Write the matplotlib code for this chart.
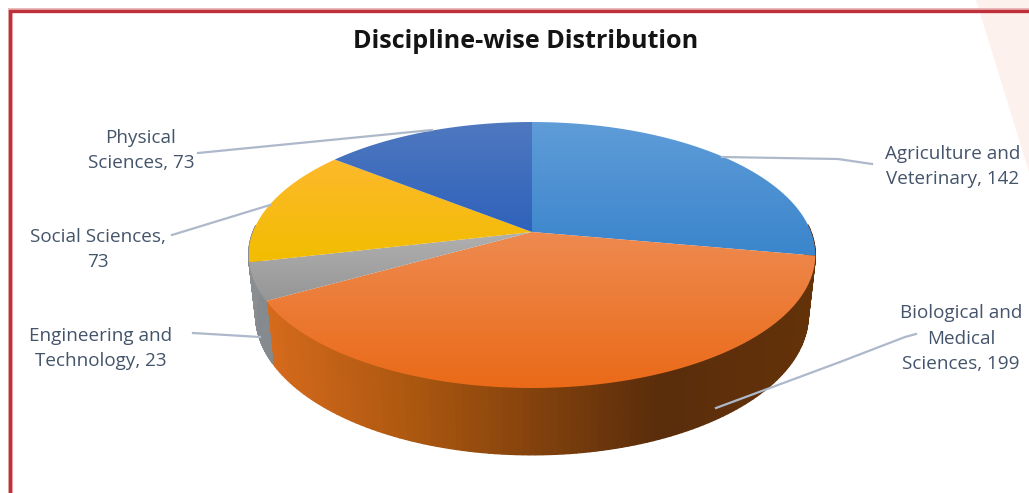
"""Discipline-wise distribution, 3D-looking pie drawn with plain matplotlib patches."""
import numpy as np
import matplotlib
matplotlib.use("Agg")
import matplotlib.pyplot as plt
from matplotlib.patches import Polygon, PathPatch
from matplotlib.path import Path
from matplotlib.colors import LinearSegmentedColormap

# ---------------------------------------------------------------------------
# Data
disciplines = ["Agriculture and\nVeterinary", "Biological and\nMedical\nSciences",
               "Engineering and\nTechnology", "Social Sciences", "Physical\nSciences"]
counts = [142, 199, 23, 73, 73]

# ---------------------------------------------------------------------------
# Style
top_light = ["#5f9cd8", "#ee8a50", "#b0b0b0", "#fdb92c", "#4f78bf"]
top_dark = ["#3a85cc", "#ea6a18", "#969696", "#f2bd00", "#2f62bb"]
side_stops = [(0.0, "#d56a1c"), (0.28, "#a9560f"), (0.5, "#81410d"),
              (0.72, "#5a2d0b"), (1.0, "#633209")]
side_cmap = LinearSegmentedColormap.from_list("side", side_stops)
side_flat = {0: "#633209", 2: "#858a8e", 3: "#8a8e90"}
text_col = "#44546a"
leader_col = "#adb9ca"
border_col = "#c0303a"

# pie geometry, pixels: centre point, projection strength, lower rim offset and scale
cx, cy = 532, 232
rx, ry = 279, 129
persp = 0.173
depth = 59
lower_sx, lower_sy = 0.975, 1.05

label_pos = [(953, 166.5), (961, 338.5), (101, 348.5), (98, 249.5), (141, 150.5)]
label_sep = [", ", ", ", ", ", ",\n", ", "]
leaders = [
    [(722, 157), (838, 159), (872, 164)],
    [(716, 408), (840, 362), (905, 337), (916, 334)],
    [(193, 333), (260, 337)],
    [(172, 235), (270, 205)],
    [(198, 153), (432, 130)],
]


def project(theta, lower=False):
    """Circle angle (radians) to pixel position on the top or bottom rim."""
    u, v = np.cos(theta), np.sin(theta)
    d = 1 + persp * v
    sx, sy = (lower_sx, lower_sy) if lower else (1.0, 1.0)
    return cx + sx * rx * u / d, cy + (depth if lower else 0) - sy * ry * v / d


fig = plt.figure(figsize=(10.29, 4.93), dpi=100)
ax = fig.add_axes([0, 0, 1, 1])
plt.rcParams["font.family"] = ["Open Sans", "DejaVu Sans"]

# faint background shape and frame
ax.add_patch(Polygon([(976, 0), (1029, 172), (1029, 0)], fc="#fdf1ee", ec="none", zorder=0))
ax.plot([9.5, 9.5, 1029], [493, 10, 10], color="#e9b4b4", lw=3.5, solid_joinstyle="miter", zorder=1)
ax.plot([10, 10, 1029], [493, 10.5, 10.5], color=border_col, lw=2.4, solid_joinstyle="miter", zorder=2)

# slice angles, clockwise from twelve o'clock
total = sum(counts)
edges = np.pi / 2 - 2 * np.pi * np.concatenate([[0], np.cumsum(counts)]) / total

# side wall, only the front half is ever visible
for i in range(len(counts)):
    steps = np.linspace(edges[i], edges[i + 1], 120)
    for t0, t1 in zip(steps[:-1], steps[1:]):
        if np.sin(t0) > 0.05 and np.sin(t1) > 0.05:
            continue
        x0, y0 = project(t0)
        x1, y1 = project(t1)
        x2, y2 = project(t1, lower=True)
        x3, y3 = project(t0, lower=True)
        if i in side_flat:
            col = side_flat[i]
        else:
            col = side_cmap(np.clip(((x0 + x1) / 2 - 266) / (812 - 266), 0, 1))
        ax.add_patch(Polygon([(x0, y0), (x1, y1), (x2, y2), (x3, y3)],
                             fc=col, ec=col, lw=1.0, zorder=3))

# top faces with a vertical gradient
for i in range(len(counts)):
    steps = np.linspace(edges[i], edges[i + 1], 120)
    xs, ys = project(steps)
    pts = np.column_stack([np.r_[cx, xs, cx], np.r_[cy, ys, cy]])
    path = Path(pts, closed=True)
    cmap = LinearSegmentedColormap.from_list("g%d" % i, [top_light[i], top_dark[i]])
    grad = np.linspace(0, 1, 128).reshape(-1, 1)
    im = ax.imshow(grad, cmap=cmap, aspect="auto", zorder=4, interpolation="bilinear",
                   extent=[pts[:, 0].min(), pts[:, 0].max(), pts[:, 1].max(), pts[:, 1].min()])
    patch = PathPatch(path, transform=ax.transData, fc="none", ec="none")
    ax.add_patch(patch)
    im.set_clip_path(patch)

# leaders and labels
for pts in leaders:
    ax.plot([p[0] for p in pts], [p[1] for p in pts], color=leader_col, lw=1.6, zorder=5)

for name, sep, n, (x, y) in zip(disciplines, label_sep, counts, label_pos):
    ax.text(x, y, f"{name}{sep}{n}", ha="center", va="center", color=text_col,
            fontsize=13.6, linespacing=1.55, zorder=6)

ax.text(526, 41, "Discipline-wise Distribution", ha="center", va="center",
        color="#141414", fontsize=18.1, fontweight="bold", zorder=6)

ax.set_xlim(0, 1029)
ax.set_ylim(493, 0)
ax.axis("off")
fig.savefig("out.png", dpi=100)
